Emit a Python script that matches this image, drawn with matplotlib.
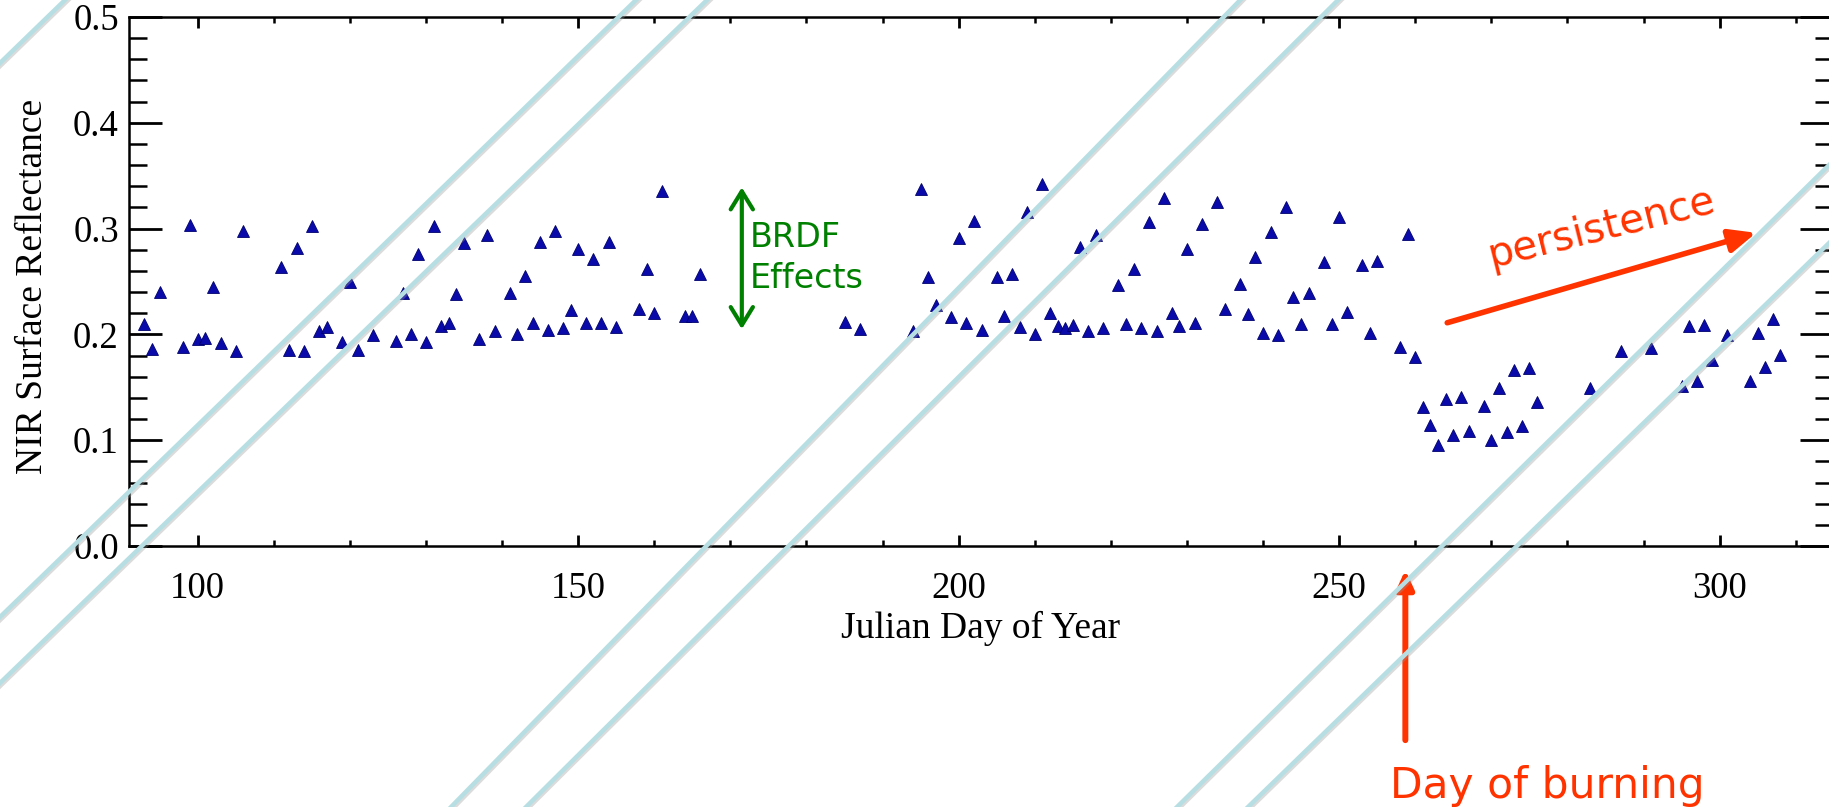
import matplotlib
matplotlib.use('Agg')
import matplotlib.pyplot as plt
from matplotlib.lines import Line2D
from matplotlib.ticker import MultipleLocator, FormatStrFormatter

# NIR surface reflectance time series (day of year, reflectance)
julian_day = [93, 94, 95, 98, 99, 100, 101, 102, 103, 105, 106,
              111, 112, 113, 114, 115, 116, 117, 119, 120, 121, 123,
              126, 127, 128, 129, 130, 131, 132, 133, 134, 135,
              137, 138, 139, 141, 142, 143, 144, 145, 146, 147,
              148, 149, 150, 151, 152, 153, 154, 155, 158, 159,
              160, 161, 164, 165, 166,
              185, 187, 194, 195, 196, 197, 199, 200, 201, 202,
              203, 205, 206, 207, 208, 209, 210, 211, 212, 213,
              214, 215, 216, 217, 218, 219, 221, 222, 223, 224,
              225, 226, 227, 228, 229, 230, 231, 232, 234, 235,
              237, 238, 239, 240, 241, 242, 243, 244, 245, 246,
              248, 249, 250, 251, 253, 254, 255, 258, 259, 260,
              261, 262, 263, 264, 265, 266, 267, 269, 270, 271,
              272, 273, 274, 275, 276, 283, 287, 291, 295, 296,
              297, 298, 299, 301, 304, 305, 306, 307, 308]
nir_reflectance = [0.210, 0.186, 0.240, 0.188, 0.303, 0.196, 0.197, 0.245, 0.192, 0.184, 0.298,
                   0.264, 0.185, 0.282, 0.184, 0.302, 0.203, 0.207, 0.193, 0.250, 0.185, 0.199,
                   0.194, 0.239, 0.200, 0.276, 0.193, 0.302, 0.208, 0.211, 0.238, 0.286,
                   0.196, 0.294, 0.203, 0.239, 0.200, 0.255, 0.211, 0.287, 0.204, 0.298,
                   0.206, 0.223, 0.281, 0.211, 0.271, 0.211, 0.287, 0.207, 0.224, 0.262,
                   0.220, 0.336, 0.217, 0.217, 0.257,
                   0.212, 0.205, 0.203, 0.337, 0.254, 0.228, 0.216, 0.291, 0.211, 0.307,
                   0.204, 0.254, 0.217, 0.257, 0.207, 0.316, 0.200, 0.342, 0.220, 0.208,
                   0.206, 0.209, 0.283, 0.203, 0.294, 0.206, 0.247, 0.210, 0.262, 0.206,
                   0.306, 0.203, 0.329, 0.220, 0.208, 0.281, 0.211, 0.304, 0.325, 0.224,
                   0.248, 0.219, 0.273, 0.201, 0.297, 0.199, 0.320, 0.235, 0.210, 0.239,
                   0.268, 0.210, 0.311, 0.221, 0.266, 0.201, 0.269, 0.188, 0.295, 0.179,
                   0.131, 0.114, 0.095, 0.139, 0.105, 0.141, 0.109, 0.132, 0.100, 0.149,
                   0.108, 0.166, 0.113, 0.168, 0.136, 0.149, 0.184, 0.187, 0.151, 0.208,
                   0.156, 0.209, 0.176, 0.199, 0.156, 0.201, 0.169, 0.215, 0.181]

# annotation anchors (day, reflectance)
brdf_day = 171.5
brdf_low, brdf_high = 0.205, 0.339
burn_day = 258.7
persist_start = (264.2, 0.211)
persist_end = (304.8, 0.296)

# background stripes, each given by two points in pixels (x, y from top)
stripes = [((0, 63), (65, 0)),
           ((0, 617), (636, 0)),
           ((0, 683), (707, 0)),
           ((451, 807), (1074, 170)),
           ((526, 807), (1167, 170)),
           ((1177, 807), (1760, 233)),
           ((1248, 807), (1760, 310))]

W, H = 1829, 807
plt.rcParams['font.family'] = 'Liberation Serif'

fig = plt.figure(figsize=(W / 100, H / 100), dpi=100)
ax = fig.add_axes([128.5 / W, 1 - 546 / H, (1833 - 128.5) / W, 529 / H])

ax.plot(julian_day, nir_reflectance, linestyle='none', marker='^', ms=8.5,
        color='#0a0aaa', mec='#00006e', mew=0.6)

ax.set_xlim(90.9, 314.9)
ax.set_ylim(0, 0.5)
ax.xaxis.set_major_locator(MultipleLocator(50))
ax.xaxis.set_minor_locator(MultipleLocator(10))
ax.yaxis.set_major_locator(MultipleLocator(0.1))
ax.yaxis.set_minor_locator(MultipleLocator(0.02))
ax.yaxis.set_major_formatter(FormatStrFormatter('%.1f'))

ax.tick_params(which='both', direction='in', top=True, right=True, labelsize=26.5)
ax.tick_params(axis='x', which='major', length=8, width=2, pad=18)
ax.tick_params(axis='x', which='minor', length=4, width=1.8)
ax.tick_params(axis='y', which='major', length=24, width=2, pad=7)
ax.tick_params(axis='y', which='minor', length=13, width=1.8)
for sp in ax.spines.values():
    sp.set_linewidth(1.8)

ax.set_xlabel('Julian Day of Year', fontsize=27)
ax.set_ylabel('NIR Surface Reflectance', fontsize=27)
ax.xaxis.set_label_coords(0.5, -0.123)
ax.yaxis.set_label_coords(-0.0463, 0.49)

# BRDF spread
ax.annotate('', xy=(brdf_day, brdf_high), xytext=(brdf_day, brdf_low),
            arrowprops=dict(arrowstyle='<->,head_length=13,head_width=8', mutation_scale=1,
                            color='#008000', lw=3, shrinkA=0, shrinkB=0))
ax.text(172.6, 0.2826, 'BRDF', color='#008000', fontsize=24, family='DejaVu Sans', va='baseline')
ax.text(172.6, 0.2439, 'Effects', color='#008000', fontsize=24, family='DejaVu Sans', va='baseline')

# post-fire persistence
ax.annotate('', xy=persist_end, xytext=persist_start,
            arrowprops=dict(arrowstyle='-|>,head_length=16,head_width=7', mutation_scale=1,
                            color='#ff3300', lw=4, shrinkA=0, shrinkB=0))
ax.text(270.0, 0.263, 'persistence', rotation=14, rotation_mode='anchor', ha='left',
        va='baseline', fontsize=29, color='#ff3300', family='DejaVu Sans')

# day of burning marker below the axis
ax.annotate('', xy=(burn_day, -0.045), xycoords=('data', 'axes fraction'),
            xytext=(burn_day, -0.367), textcoords=('data', 'axes fraction'),
            arrowprops=dict(arrowstyle='-|>,head_length=11,head_width=5', mutation_scale=1,
                            color='#ff3300', lw=4.3, shrinkA=0, shrinkB=0),
            annotation_clip=False)
ax.text(256.7, -0.4765, 'Day of burning', transform=ax.get_xaxis_transform(),
        color='#ff3300', fontsize=30.5, family='DejaVu Sans', va='baseline', ha='left')

# light diagonal stripes over the figure
for (x0, y0), (x1, y1) in stripes:
    s = (y1 - y0) / (x1 - x0)
    xa, xb = -100, W + 100
    ya, yb = y0 + s * (xa - x0), y0 + s * (xb - x0)
    xs = [xa / W, xb / W]
    fig.add_artist(Line2D([(xa + 1.5) / W, (xb + 1.5) / W], [1 - (ya + 1.5) / H, 1 - (yb + 1.5) / H],
                          transform=fig.transFigure, color='#9a9a9a', alpha=0.35, lw=3.4))
    fig.add_artist(Line2D(xs, [1 - ya / H, 1 - yb / H], transform=fig.transFigure,
                          color='#b7dfe3', lw=3.2))

fig.savefig('out.png', dpi=100)
